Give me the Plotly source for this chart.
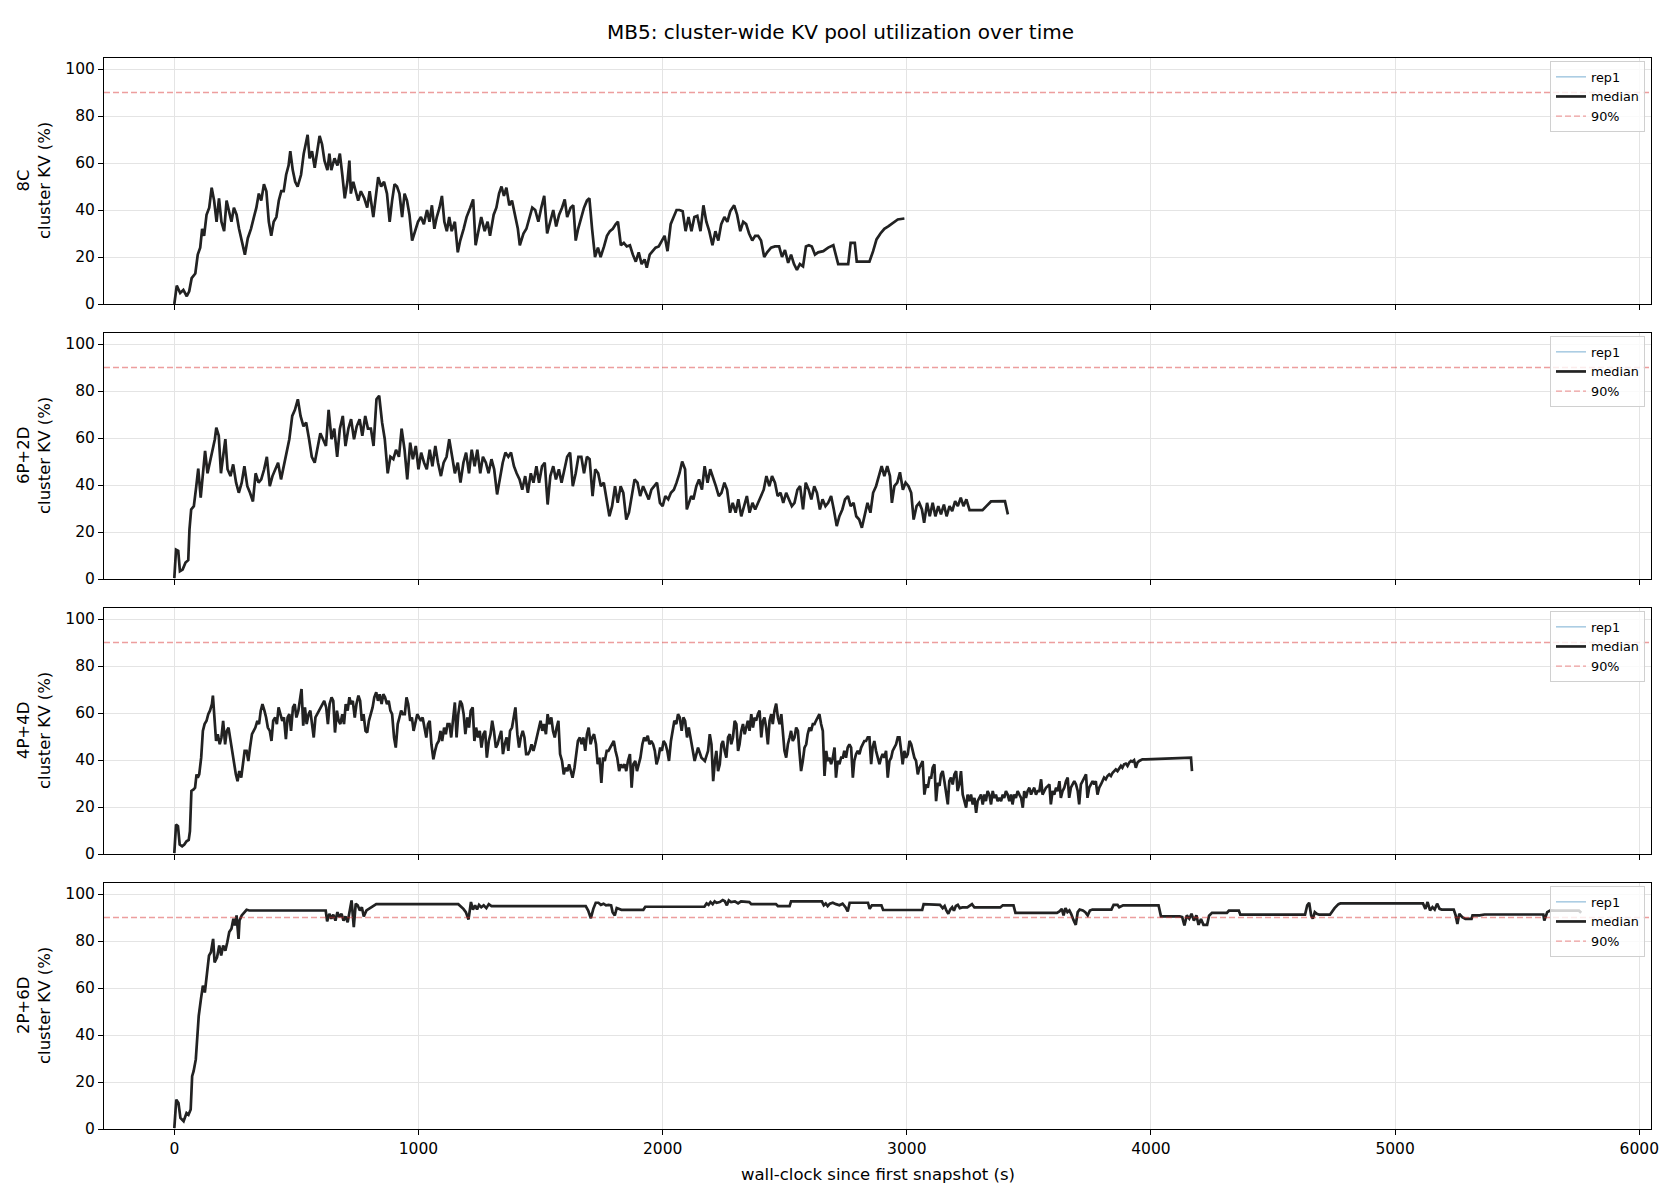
import plotly.graph_objects as go

TITLE = "MB5: cluster-wide KV pool utilization over time"
X_LABEL = "wall-clock since first snapshot (s)"
CONFIGS = ["8C", "6P+2D", "4P+4D", "2P+6D"]
THRESHOLD = 90
X_TICKS = [0, 1000, 2000, 3000, 4000, 5000, 6000]
Y_TICKS = [0, 20, 40, 60, 80, 100]

# (wall-clock seconds, cluster KV %); rep1 == median (single rep)
KV_8C = [(0,0),(10,7.8),(24,4.7),(37,6),(51,3.3),(61,5.4),(71,11),(86,13),(96,21),(106,24),(114,32),(122,29),(132,38),(143,41),(153,49.5),(163,44),(173,35),(183,45),(193,35),(204,31),(214,44),(224,40),(234,35),(244,41),(255,38),(265,32),(277,27),(289,21),(301,28),(314,32),(326,37),(336,41),(346,47),(356,44),(367,51),(377,48),(387,35),(397,29),(407,35),(418,37),(428,44),(438,48),(448,48),(458,55),(468,59),(475,65),(485,57),(495,52),(505,50),(519,55),(530,64),(540,69),(546,72),(554,62),(564,65),(575,58),(585,64),(595,71.5),(605,68),(615,61),(627,57),(635,64),(643,57),(656,62),(668,59),(678,64),(688,55),(698,45),(709,52),(717,61),(723,47),(733,52),(743,48),(753,44),(764,48),(778,45),(790,41),(800,48),(815,37),(825,47),(835,54),(847,50),(859,52),(871,47),(882,35),(892,44),(902,51),(912,50),(922,47),(933,37),(943,47),(953,44),(963,38),(974,27),(984,30),(998,35),(1010,37),(1022,34),(1035,40),(1045,35),(1055,42),(1065,32),(1075,37),(1086,41),(1096,46),(1106,35),(1116,31),(1126,37),(1136,31),(1149,35),(1161,22),(1171,27),(1185,32),(1197,37),(1212,41),(1224,44.5),(1234,25),(1246,32),(1257,37),(1271,31),(1283,35),(1293,29),(1308,38),(1319,41),(1330,47),(1340,50),(1350,46),(1360,49.5),(1372,42),(1383,44),(1395,38),(1407,32),(1415,25),(1430,30),(1442,32),(1454,37),(1466,41),(1478,40),(1491,35),(1503,41),(1515,46),(1527,30),(1540,35),(1552,40),(1564,33),(1576,38),(1588,41),(1599,44.5),(1609,37),(1623,41),(1634,42),(1644,27),(1654,32),(1666,37),(1678,41),(1690,44),(1700,45),(1711,32),(1723,20),(1735,24),(1746,20),(1760,24.5),(1772,29),(1784,31),(1796,32),(1808,34),(1817,35),(1829,25),(1841,26),(1853,24.5),(1866,25),(1878,21),(1890,18),(1902,22),(1914,17),(1926,19),(1935,15.5),(1947,21),(1959,22.5),(1971,24),(1984,24.5),(1996,27),(2008,29),(2020,22.5),(2033,34),(2045,37),(2057,40),(2069,40),(2082,39.5),(2094,31),(2106,37),(2118,31),(2130,37),(2142,37.5),(2155,31),(2167,42),(2179,35),(2191,31),(2204,25),(2216,31),(2228,27),(2240,34),(2253,37),(2265,35),(2277,39.5),(2293,42),(2305,38),(2318,31),(2330,35),(2342,34),(2354,30),(2367,27),(2379,29),(2391,29),(2403,27),(2416,20),(2428,22),(2444,24),(2460,24.5),(2477,24.5),(2489,20),(2501,23),(2514,17.5),(2526,21),(2538,17),(2550,14.5),(2562,17),(2575,16),(2587,24.5),(2599,25),(2611,24.5),(2624,21),(2637,22),(2658,22.5),(2678,24),(2699,25),(2709,20.5),(2719,17),(2745,17),(2760,17),(2770,26),(2787,26),(2795,18),(2811,18),(2847,18),(2862,22.5),(2876,27.5),(2892,30),(2908,32),(2924,33),(2943,34.5),(2963,36),(2990,36.4)]

KV_6P2D = [(0,0.4),(7,12.5),(16,12),(23,3.3),(34,4),(46,7),(57,8),(62,21),(69,29.6),(80,31),(90,39.5),(98,47),(108,34.6),(117,43.8),(126,54.5),(136,45),(145,49.5),(156,55),(166,59.5),(172,64.4),(182,61),(191,45),(200,52),(209,59.5),(218,46.7),(230,43.8),(241,48.8),(253,41),(264,36.7),(276,41),(287,48),(299,39.5),(310,36.7),(322,33),(333,45),(345,41),(356,42.4),(368,46.7),(379,52),(391,39.5),(402,43.8),(414,46.7),(425,49.5),(437,42.4),(448,48),(460,55),(471,59.5),(483,69.4),(494,72),(506,76.5),(517,69.4),(529,65),(540,66.6),(552,59.5),(563,52),(575,49.5),(586,55),(598,62),(609,59.5),(621,56.6),(632,72),(644,59.5),(655,64),(667,52),(678,64),(690,69.4),(701,56.6),(713,64),(724,68),(736,59.5),(747,65),(759,68),(770,61),(782,69.4),(793,64),(805,64),(816,56.6),(828,76.5),(839,78),(851,66.6),(862,59.5),(874,45),(885,52),(897,51),(908,55),(920,52),(931,64),(943,55),(954,42.4),(966,58),(977,51),(989,56.6),(1000,46.7),(1011,53.8),(1023,49.5),(1034,46.7),(1046,55),(1057,48),(1069,56.6),(1080,49.5),(1092,43.8),(1103,49.5),(1115,52),(1126,59.5),(1138,52),(1149,45),(1161,49.5),(1172,41),(1184,49.5),(1195,53.8),(1207,45),(1218,55),(1230,48),(1241,55),(1253,45),(1264,52),(1276,49.5),(1287,45),(1299,51),(1310,46.7),(1322,36),(1333,42.4),(1345,49.5),(1356,53.8),(1368,52),(1379,53.8),(1391,48),(1402,45),(1414,42.4),(1425,38),(1437,43.8),(1448,36.7),(1460,45),(1471,41),(1483,48),(1494,41),(1506,48),(1517,49.5),(1529,31.7),(1540,43.8),(1552,48),(1563,42.4),(1575,46.7),(1586,41),(1598,46.7),(1609,52),(1621,53.8),(1632,39.5),(1644,45),(1655,52),(1667,52),(1678,45),(1690,52),(1701,51),(1713,35.3),(1724,46.7),(1736,45),(1747,39.5),(1759,41),(1770,33.9),(1782,26.7),(1793,31),(1805,39.5),(1816,32.4),(1828,39.5),(1839,36.7),(1851,25.3),(1862,28.2),(1874,36.7),(1885,42.4),(1897,41),(1908,35.3),(1920,39.5),(1931,36.7),(1943,33.9),(1954,38),(1966,39.5),(1977,41),(1989,32.4),(2000,31),(2011,35.3),(2023,33.9),(2034,36.7),(2046,38),(2057,41),(2069,45),(2080,50),(2092,46.7),(2099,29.6),(2108,32.4),(2117,35.3),(2126,33.9),(2138,39.5),(2149,42.4),(2161,38),(2172,48),(2184,41),(2195,46.7),(2207,42.4),(2218,39.5),(2230,35.3),(2241,36.7),(2253,41),(2264,38),(2276,28.2),(2287,32.4),(2299,28.2),(2310,33.9),(2322,26.7),(2333,31),(2345,35.3),(2356,28.2),(2368,32.4),(2379,29.6),(2391,32.4),(2402,35.3),(2414,38),(2425,43.8),(2437,39.5),(2448,43.8),(2460,41),(2471,35.3),(2483,36.7),(2494,32.4),(2506,36.7),(2517,33.9),(2529,31),(2540,32.4),(2552,38),(2563,39.5),(2575,29.6),(2586,41),(2598,38),(2609,33.9),(2621,39.5),(2632,36.7),(2644,29.6),(2655,33.9),(2667,31),(2678,32.4),(2690,35.3),(2701,29.6),(2713,22.5),(2724,26.7),(2736,29.6),(2747,33.9),(2759,35.3),(2770,31),(2782,32.4),(2793,26.7),(2805,25.3),(2816,21.8),(2828,26.7),(2839,32.4),(2851,28.2),(2862,36.7),(2874,39.5),(2885,43.8),(2897,48),(2908,43.8),(2920,48),(2931,43.8),(2939,32.4),(2949,39.5),(2961,41),(2972,45.4),(2984,38),(2995,41),(3007,39.5),(3018,36.7),(3028,25.3),(3040,31),(3051,32.4),(3062,29.6),(3071,23.9),(3083,32.4),(3094,26.7),(3106,32.4),(3117,26.7),(3129,31),(3140,27.5),(3152,31.7),(3163,26.7),(3175,31),(3186,28.9),(3198,33.1),(3209,31),(3221,34.6),(3232,31),(3244,33.9),(3257,29.3),(3276,29.3),(3310,29.3),(3326,31),(3345,33),(3402,33.1),(3414,27.5)]

KV_4P4D = [(0,0.4),(7,12.5),(15,11.8),(22,4),(32,3.3),(41,4),(50,5.4),(59,6),(64,9.7),(70,26.8),(79,27.5),(85,28.2),(91,33.9),(96,32.5),(102,33.9),(110,41),(117,52.4),(124,55.3),(132,56.7),(139,59.5),(146,61),(154,63.8),(158,67.4),(165,58.1),(171,48.1),(178,51),(186,46.7),(193,49.6),(200,56.7),(208,46.7),(215,52.4),(222,53.8),(230,48.1),(237,42.5),(244,38.2),(252,33.9),(259,31),(266,35.3),(274,32.5),(281,38.2),(288,43.9),(296,43.9),(303,39.6),(310,45.3),(318,51),(325,52.4),(332,53.8),(340,56.7),(347,55.3),(354,61),(361,63.8),(369,61),(376,58.1),(383,53.8),(391,52.4),(398,48.1),(405,56.7),(413,58.1),(420,55.3),(427,62.4),(435,59.5),(442,56.7),(449,58.1),(457,48.9),(464,58.1),(471,59.5),(478,52.4),(486,62.4),(493,63.8),(500,58.1),(508,61),(514,65.2),(521,70.2),(528,54.6),(535,62.4),(542,55.3),(550,59.5),(557,61),(565,55.3),(571,49.6),(578,58.1),(585,59.5),(592,61),(600,62.4),(607,63.8),(614,65.2),(622,62.4),(629,55.3),(636,63.8),(644,66.7),(651,65.2),(658,51.7),(666,61),(673,56.7),(680,55.3),(688,59.5),(695,55.3),(702,63.8),(710,61),(717,66.7),(724,63.8),(731,65.2),(739,58.1),(746,63.8),(754,67.4),(761,65.2),(768,56.7),(775,59.5),(783,52.4),(790,51.7),(797,56.7),(805,59.5),(812,62.4),(819,66.7),(827,68.8),(834,65.2),(841,68),(849,63.8),(856,68),(863,66.7),(871,63.8),(878,65.2),(885,61),(892,59.5),(900,49.6),(907,45.3),(915,55.3),(922,58.1),(929,61),(936,59.5),(944,59.5),(951,66.7),(958,63.8),(966,56.7),(973,58.1),(980,52.4),(988,56.7),(995,59.5),(1002,58.1),(1010,56.7),(1017,58.1),(1024,53.8),(1032,49.6),(1039,55.3),(1046,56.7),(1053,46.7),(1061,40.3),(1068,43.9),(1075,46.7),(1083,48.1),(1090,52.4),(1097,48.1),(1105,53.8),(1112,51),(1119,55.3),(1127,55.3),(1134,49.6),(1141,56.7),(1149,64.5),(1156,49.6),(1163,59.5),(1171,65.2),(1178,63.8),(1185,59.5),(1192,51),(1200,58.1),(1207,53.8),(1214,61),(1222,62.4),(1229,48.1),(1236,53.8),(1244,49.6),(1251,52.4),(1258,45.3),(1266,51),(1273,52.4),(1280,41),(1288,48.1),(1295,51),(1302,56.7),(1309,52.4),(1317,45.3),(1324,46.7),(1331,49.6),(1339,52.4),(1346,42.5),(1353,46.7),(1361,49.6),(1368,43.9),(1375,52.4),(1383,53.8),(1390,58.1),(1397,62.4),(1405,51),(1412,45.3),(1419,49.6),(1427,52.4),(1434,49.6),(1441,42.5),(1449,42.5),(1456,43.9),(1463,46.7),(1471,43.9),(1478,46.7),(1485,49.6),(1492,52.4),(1500,56.7),(1507,52.4),(1514,55.3),(1522,51),(1529,59.5),(1536,55.3),(1544,58.1),(1551,52.4),(1558,49.6),(1566,53.8),(1573,56.7),(1580,42.5),(1588,39.6),(1595,33.9),(1602,36.7),(1610,35.3),(1617,38.2),(1624,35.3),(1631,32.5),(1639,36.7),(1646,42.5),(1653,48.1),(1661,49.6),(1668,46.7),(1675,49.6),(1683,43.9),(1690,51),(1697,53.8),(1705,46.7),(1712,49.6),(1719,51),(1727,46.7),(1734,38.2),(1741,41),(1749,30.3),(1756,41),(1763,39.6),(1771,43.9),(1778,43.9),(1785,45.3),(1792,46.7),(1800,48.1),(1807,43.9),(1814,41),(1822,35.3),(1829,38.2),(1836,36.7),(1844,38.2),(1851,35.3),(1858,39.6),(1866,42.5),(1873,28.2),(1880,38.2),(1888,39.6),(1895,35.3),(1902,38.2),(1909,41),(1917,46.7),(1924,49.6),(1931,48.1),(1939,50.3),(1946,46.7),(1953,48.1),(1961,46.7),(1968,43.9),(1975,38.2),(1983,41),(1990,45.3),(1997,43.9),(2004,48.1),(2012,46.7),(2019,43.9),(2026,39.6),(2034,48.1),(2041,52.4),(2048,56.7),(2056,55.3),(2063,59.5),(2070,58.1),(2078,52.4),(2085,58.1),(2092,56.7),(2100,49.6),(2107,53.8),(2131,39.6),(2145,45.3),(2159,41),(2173,39.6),(2186,43.9),(2193,51),(2200,46.7),(2207,31),(2214,39.6),(2220,43.9),(2227,35.3),(2234,38.2),(2241,46.7),(2247,48.1),(2254,43.9),(2261,41),(2268,49.6),(2275,51),(2281,46.7),(2288,49.6),(2295,56.7),(2302,55.3),(2309,43.9),(2315,46.7),(2322,52.4),(2329,55.3),(2336,51),(2343,53.8),(2349,56.7),(2356,52.4),(2363,59.5),(2370,53.8),(2377,58.1),(2383,56.7),(2390,59.5),(2397,61),(2404,49.6),(2411,56.7),(2417,58.1),(2424,53.8),(2431,46.7),(2438,56.7),(2445,59.5),(2451,55.3),(2458,61),(2465,64),(2472,58.1),(2479,55.3),(2486,59.5),(2492,52.4),(2499,43.9),(2506,41),(2513,46.7),(2520,49.6),(2526,52.4),(2533,48.1),(2540,49.6),(2547,53.8),(2554,52.4),(2560,43.9),(2567,35.3),(2574,39.6),(2581,45.3),(2588,46.7),(2594,51),(2601,53.8),(2608,52.4),(2615,55.3),(2622,55.3),(2628,56.7),(2635,58.1),(2642,59.5),(2649,55.3),(2656,52.4),(2663,33.2),(2670,43.9),(2676,39.6),(2683,41),(2690,38.2),(2697,41),(2704,45.3),(2710,32.5),(2717,39.6),(2724,38.2),(2731,41),(2738,41),(2744,43.9),(2751,41),(2758,45.3),(2765,46.7),(2772,45.3),(2779,32.5),(2785,39.6),(2792,42.5),(2799,43.9),(2806,42.5),(2813,45.3),(2819,46.7),(2826,48.1),(2833,48.1),(2840,49.6),(2847,49.6),(2854,38.2),(2860,45.3),(2867,48.1),(2874,43.9),(2881,41),(2888,38.2),(2895,41),(2901,42.5),(2908,41),(2915,43.9),(2922,32.5),(2929,39.6),(2936,41),(2942,43.9),(2949,45.3),(2956,46.7),(2963,49.6),(2970,49.6),(2977,43.9),(2983,38.2),(2990,43.9),(2997,41),(3004,42.5),(3011,48.1),(3018,46.7),(3025,43.9),(3031,41),(3038,39.6),(3045,33.9),(3052,36.7),(3059,38.2),(3065,39.6),(3072,25.3),(3079,29.6),(3086,28.2),(3093,32.5),(3100,32.5),(3106,36.7),(3113,38.2),(3120,22.5),(3127,30.3),(3134,29),(3140,33.9),(3147,35.3),(3154,31),(3161,26.8),(3168,21.1),(3174,31),(3181,32.5),(3188,29.6),(3195,33.9),(3202,35.3),(3208,26.8),(3215,29.6),(3222,35.3),(3229,25.3),(3236,22.5),(3243,19.7),(3249,25.3),(3256,22.5),(3263,25.3),(3270,21.1),(3277,23.9),(3284,17.5),(3290,22.5),(3297,23.9),(3304,25.3),(3311,21.1),(3318,25.3),(3324,22.5),(3331,26.8),(3338,25.3),(3345,21.1),(3352,26.8),(3358,23.9),(3365,25.3),(3372,22.5),(3379,23.9),(3386,22.5),(3393,25.3),(3399,23.9),(3406,26.8),(3413,25.3),(3420,22.5),(3427,25.3),(3433,21.1),(3440,25.3),(3447,23.9),(3454,26.8),(3461,25.3),(3468,23.9),(3475,19.7),(3481,26.8),(3488,23.9),(3495,26.8),(3502,28.2),(3509,25.3),(3515,26.8),(3522,28.2),(3529,25.3),(3536,26.8),(3543,26.8),(3550,31.8),(3556,25.3),(3563,26.8),(3570,28.2),(3577,28.9),(3584,29.6),(3590,21.1),(3597,26.8),(3604,25.3),(3611,28.2),(3618,26.8),(3625,31),(3631,23.9),(3638,26.8),(3645,28.2),(3652,31),(3659,32.5),(3665,23.9),(3672,28.2),(3679,29.6),(3686,31),(3693,29.6),(3700,26.8),(3706,21.1),(3713,29.6),(3720,31),(3727,32.5),(3734,33.9),(3740,23.9),(3747,28.2),(3754,29.6),(3761,31),(3768,29.6),(3774,31),(3781,25.3),(3788,28.2),(3795,29.6),(3802,31),(3808,32.5),(3815,31.8),(3822,33.2),(3829,33.9),(3836,33.2),(3843,34.6),(3849,35.3),(3856,36),(3863,35.3),(3870,36.7),(3877,37.5),(3883,36.7),(3890,38.2),(3897,38.5),(3904,37.5),(3911,38.9),(3918,39.6),(3924,39.3),(3931,39.9),(3938,36.7),(3945,38.9),(3952,39.6),(3959,39.9),(3965,40.3),(3979,40.3),(4157,40.7),(4164,41),(4168,35.3)]

KV_2P6D = [(0,0.4),(8,12.5),(17,11.1),(25,4.7),(38,3.3),(50,6.8),(58,6.1),(67,8.3),(73,22.5),(79,24.6),(88,29.6),(94,41),(100,48.1),(109,55.3),(117,61),(125,58.1),(134,68.1),(142,73.8),(150,75.2),(159,80.9),(165,70.9),(175,73.1),(184,78.1),(192,73.8),(200,78.1),(209,75.9),(217,79.5),(225,83.8),(234,85.2),(242,89.5),(248,86.6),(255,90.9),(263,80.9),(267,88.7),(276,90.9),(286,92.3),(296,93.3),(307,93),(620,93),(626,88.4),(635,91.6),(643,89.5),(651,91.2),(660,88.7),(668,92.3),(676,90.2),(685,91.6),(693,88.7),(701,90.5),(710,88),(718,93.7),(726,97.3),(735,85.9),(743,95.9),(751,95.2),(760,93),(768,94.4),(776,90.5),(787,93),(797,93.7),(827,95.7),(1163,95.7),(1173,94.9),(1184,93.7),(1194,92.3),(1205,89.2),(1215,96.6),(1223,93.4),(1232,95.2),(1240,93.4),(1248,95.4),(1257,94.4),(1267,95.2),(1278,94),(1288,95.7),(1299,94.9),(1685,94.9),(1695,93),(1706,89.7),(1716,93.7),(1726,96.3),(1737,96.3),(1747,95.4),(1758,95.9),(1768,95.2),(1779,95.4),(1789,95.2),(1795,92.3),(1804,90.9),(1812,94),(1820,93.7),(1831,93.3),(1921,93.3),(1929,94.6),(2171,94.6),(2180,96),(2188,95.4),(2196,96.6),(2205,95.7),(2213,96.9),(2221,96.3),(2234,96.6),(2246,97.4),(2255,96.9),(2263,95.2),(2271,97.3),(2280,96.6),(2296,96.9),(2309,96),(2321,96.9),(2355,96.6),(2363,95.7),(2464,95.7),(2472,94.9),(2520,94.9),(2526,96.9),(2652,96.9),(2660,95.2),(2668,96),(2676,94.9),(2685,95.9),(2697,96.3),(2710,95.7),(2724,95.2),(2737,95.9),(2749,94.4),(2758,92.6),(2766,96.3),(2841,96.3),(2848,93.7),(2857,95.2),(2896,95.2),(2903,93.2),(3063,93.2),(3069,95.7),(3136,95.4),(3147,94),(3155,94.9),(3162,93),(3170,91.6),(3178,93.4),(3186,94.4),(3193,92.9),(3201,94.9),(3209,95.4),(3217,94),(3228,94.3),(3248,94.3),(3267,95.7),(3277,94.3),(3383,94.3),(3393,95.2),(3437,95.2),(3445,92),(3615,92),(3625,92.6),(3635,93.7),(3642,90.9),(3650,94),(3658,92.3),(3666,93),(3673,91.6),(3683,88.9),(3692,86.9),(3700,92.3),(3708,93.4),(3721,93),(3731,92.3),(3741,90.9),(3750,93),(3760,93.4),(3838,93.4),(3847,95.4),(3863,95.4),(3870,94.4),(3886,95.2),(4031,95.2),(4041,90.5),(4118,90.5),(4128,90.2),(4137,86.6),(4147,90.9),(4157,89.5),(4166,91.6),(4176,88.7),(4186,90.9),(4195,86.9),(4205,89.4),(4215,86.9),(4230,86.9),(4238,90.8),(4250,92),(4311,92),(4319,92.9),(4360,92.9),(4366,91.2),(4631,91.2),(4640,95.2),(4648,96.3),(4656,90.9),(4663,89.5),(4671,92.3),(4679,91.6),(4689,91.2),(4733,91.2),(4741,92.6),(4752,94),(4768,95.7),(4776,96),(5114,96),(5124,93.7),(5133,96.6),(5143,93),(5153,94.4),(5162,93.4),(5172,95.9),(5182,93.7),(5191,93.4),(5240,93.4),(5248,90.9),(5255,87.3),(5263,91.6),(5275,90.2),(5288,89.4),(5313,89.4),(5317,90.9),(5346,90.9),(5366,91.3),(5607,91.3),(5611,88.7),(5623,92.3),(5636,93),(5656,92.9),(5753,92.9),(5762,92)]

SERIES = [KV_8C, KV_6P2D, KV_4P4D, KV_2P6D]

# ---------------- layout geometry (pixel positions -> paper fractions) ----------------
W, H = 1680, 1200
X_DOMAIN = [104 / W, 1651 / W]
Y_DOMAINS = [
    [1 - 304 / H, 1 - 58 / H],
    [1 - 579 / H, 1 - 333 / H],
    [1 - 854 / H, 1 - 608 / H],
    [1 - 1129 / H, 1 - 883 / H],
]
X_RANGE = [-288, 6048]
Y_RANGE = [0, 104.7]
FONT = "DejaVu Sans"

REP_COLOR = "rgba(31,119,180,0.4)"
MED_COLOR = "#222222"
THR_COLOR = "rgba(214,39,40,0.45)"

fig = go.Figure()
layout = dict(
    width=W, height=H, autosize=False,
    margin=dict(l=0, r=0, t=0, b=0, pad=0, autoexpand=False),
    paper_bgcolor="white", plot_bgcolor="white",
    font=dict(family=FONT, color="black"),
    showlegend=True,
    annotations=[],
)

for i, (name, data) in enumerate(zip(CONFIGS, SERIES)):
    n = i + 1
    xa = "x" if n == 1 else f"x{n}"
    ya = "y" if n == 1 else f"y{n}"
    lg = "legend" if n == 1 else f"legend{n}"
    t = [p[0] for p in data]
    v = [p[1] for p in data]
    fig.add_trace(go.Scatter(x=t, y=v, mode="lines", name="rep1",
                             line=dict(color=REP_COLOR, width=1.5),
                             xaxis=xa, yaxis=ya, legend=lg))
    fig.add_trace(go.Scatter(x=t, y=v, mode="lines", name="median",
                             line=dict(color=MED_COLOR, width=2.7),
                             xaxis=xa, yaxis=ya, legend=lg))
    fig.add_trace(go.Scatter(x=X_RANGE, y=[THRESHOLD, THRESHOLD], mode="lines", name="90%",
                             line=dict(color=THR_COLOR, width=1.4, dash="6px,3px"),
                             xaxis=xa, yaxis=ya, legend=lg))

    axis_common = dict(showline=True, mirror=True, linecolor="black", linewidth=1,
                       ticks="outside", ticklen=5, tickwidth=1, tickcolor="black",
                       showgrid=True, gridcolor="#e4e4e4", gridwidth=1, zeroline=False,
                       automargin=False,
                       tickfont=dict(family=FONT, size=15.5, color="black"))
    layout["xaxis" if n == 1 else f"xaxis{n}"] = dict(
        axis_common, domain=X_DOMAIN, range=X_RANGE, tickvals=X_TICKS,
        showticklabels=(n == 4), anchor=ya)
    layout["yaxis" if n == 1 else f"yaxis{n}"] = dict(
        axis_common, domain=Y_DOMAINS[i], range=Y_RANGE, tickvals=Y_TICKS, anchor=xa)

    top_px = (1 - Y_DOMAINS[i][1]) * H
    layout[lg] = dict(
        x=1645 / W, y=1 - (top_px + 3) / H, xanchor="right", yanchor="top",
        bgcolor="rgba(255,255,255,0.8)", bordercolor="#d0d0d0", borderwidth=1,
        font=dict(family=FONT, size=12.8, color="black"),
        tracegroupgap=0, itemwidth=30,
    )
    layout["annotations"].append(dict(
        text=f"{name}<br>cluster KV (%)", textangle=-90, xref="paper", yref="paper",
        x=34 / W, y=sum(Y_DOMAINS[i]) / 2, showarrow=False, xanchor="center", yanchor="middle",
        font=dict(family=FONT, size=16.5, color="black")))

layout["annotations"].append(dict(
    text=TITLE, xref="paper", yref="paper", x=840 / W, y=1 - 32 / H, showarrow=False,
    xanchor="center", yanchor="middle", font=dict(family=FONT, size=20, color="black")))
layout["annotations"].append(dict(
    text=X_LABEL, xref="paper", yref="paper", x=sum(X_DOMAIN) / 2, y=1 - 1174 / H,
    showarrow=False, xanchor="center", yanchor="middle",
    font=dict(family=FONT, size=16.5, color="black")))

fig.update_layout(**layout)
fig.write_html("out.html", config={"displayModeBar": False, "responsive": False})
